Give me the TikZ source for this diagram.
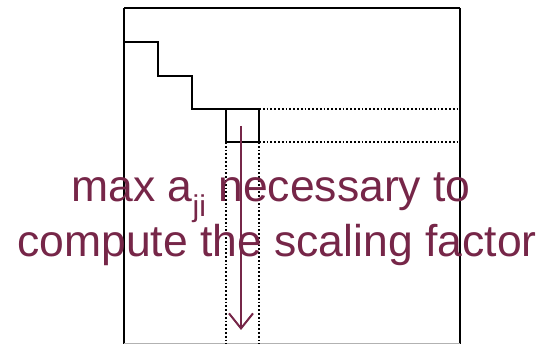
\documentclass[tikz,border=0pt]{standalone}
\usepackage{fontspec}
\setmainfont{Liberation Sans}
\usetikzlibrary{arrows.meta}
\definecolor{wine}{RGB}{118,38,72}
\begin{document}
\begin{tikzpicture}[x=1pt,y=-1pt,
  solidline/.style={draw=black,line width=1.6pt},
  dotline/.style={draw=black,line width=1.8pt,dash pattern=on 1.8pt off 2pt},
  label/.style={text=wine,font=\fontsize{44.5}{53}\selectfont,inner sep=0pt,anchor=base}]
\useasboundingbox (0,0) rectangle (544,344);
% matrix outline (bottom edge just at the lower border)
\draw[solidline] (124,8) -- (124,345) (460,8) -- (460,345) (124,8) -- (460,8);
\draw[draw=black!30,line width=1pt] (124,343.5) -- (460,343.5);
% staircase of the already eliminated part
\draw[solidline] (124,42) -- (158,42) -- (158,76) -- (192,76) -- (192,109) -- (226,109);
% pivot element
\draw[solidline] (226,109) rectangle (259,142);
% row and column of the remaining submatrix
\draw[dotline] (259,109) -- (460,109);
\draw[dotline] (259,142) -- (460,142);
\draw[dotline] (226,142) -- (226,344);
\draw[dotline] (259,142) -- (259,344);
% search down the column
\coordinate (s) at (241,126);
\coordinate (e) at (241,330);
\draw[wine,line width=2pt,-{Straight Barb[length=15pt,width=24pt,line width=2pt]}] (s) -- (e);
% caption
\node[label] (l1) at (271,202) {max a\raisebox{-15pt}{\fontsize{30}{30}\selectfont ji} necessary to};
\node[label] (l2) at (277,257) {compute the scaling factor};
\end{tikzpicture}
\end{document}
